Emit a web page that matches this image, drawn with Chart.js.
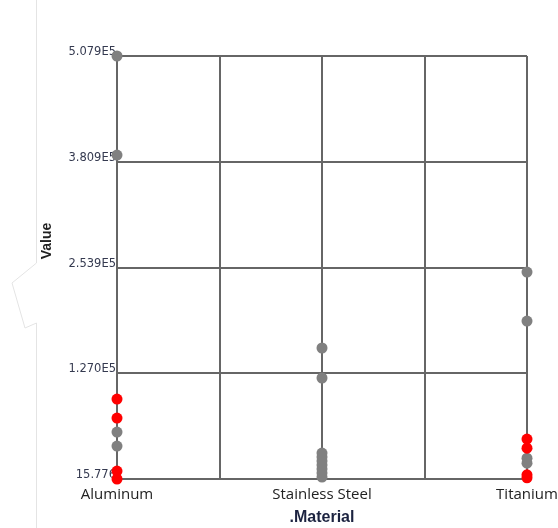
<!DOCTYPE html>
<html>
<head>
<meta charset="utf-8">
<script src="https://cdn.jsdelivr.net/npm/chart.js@4/dist/chart.umd.min.js"></script>
<style>
html,body{margin:0;padding:0;background:#fff;}
#wrap{width:558px;height:528px;position:relative;}
</style>
</head>
<body>
<div id="wrap"><canvas id="c"></canvas></div>
<script>
// ---- data ----
const categories = ['Aluminum', 'Stainless Steel', 'Titanium'];
const yTickValues = [15.776, 127000, 253900, 380900, 507900];
const yTickLabels = ['15.776', '1.270E5', '2.539E5', '3.809E5', '5.079E5'];
// gray points per material
const grayAluminum = [507900, 389000, 56400, 39600];
const grayStainless = [157300, 121300, 31200, 26400, 21600, 16800, 12000, 7200, 2400];
const grayTitanium = [248500, 189700, 25000, 19000];
// red points per material
const redAluminum = [96000, 73200, 9600, 15.776];
const redStainless = [];
const redTitanium = [48000, 37000, 5000, 1500];
const xTitle = '.Material';
const yTitle = 'Value';

const grayByCat = [grayAluminum, grayStainless, grayTitanium];
const redByCat = [redAluminum, redStainless, redTitanium];
const toPoints = arrs => arrs.flatMap((vals, i) => vals.map(v => ({x: i, y: v})));

const gridColor = '#666666';

const decoPlugin = {
  id: 'deco',
  beforeDraw(chart) {
    const ctx = chart.ctx;
    ctx.save();
    ctx.strokeStyle = '#e4e4e4';
    ctx.lineWidth = 1;
    ctx.beginPath();
    ctx.moveTo(36.5, 0);
    ctx.lineTo(36.5, 263);
    ctx.lineTo(12, 283);
    ctx.lineTo(25, 328);
    ctx.lineTo(36.5, 323);
    ctx.lineTo(36.5, 528);
    ctx.stroke();
    ctx.restore();
  },
  afterDraw(chart) {
    const ctx = chart.ctx;
    ctx.save();
    ctx.translate(47, 241);
    ctx.rotate(-Math.PI / 2);
    ctx.font = 'bold 14px "Liberation Sans", Arial, sans-serif';
    ctx.fillStyle = '#222';
    ctx.textAlign = 'center';
    ctx.textBaseline = 'middle';
    ctx.fillText(yTitle, 0, 0);
    ctx.restore();
  }
};

new Chart(document.getElementById('c'), {
  type: 'scatter',
  data: {
    datasets: [
      {
        label: 'red',
        data: toPoints(redByCat),
        backgroundColor: '#ff0000',
        borderWidth: 0,
        pointRadius: 5.5,
        pointHoverRadius: 5.5,
        clip: false
      },
      {
        label: 'gray',
        data: toPoints(grayByCat),
        backgroundColor: '#808080',
        borderWidth: 0,
        pointRadius: 5.5,
        pointHoverRadius: 5.5,
        clip: false
      }
    ]
  },
  options: {
    responsive: true,
    maintainAspectRatio: false,
    animation: false,
    layout: {padding: {left: 0, right: 31, top: 56, bottom: 0}},
    plugins: {
      legend: {display: false},
      tooltip: {enabled: false}
    },
    scales: {
      x: {
        type: 'linear',
        min: 0,
        max: categories.length - 1,
        afterFit(scale) { scale.height = 49; scale.paddingLeft = 0; scale.paddingRight = 0; },
        ticks: {
          stepSize: 0.5,
          autoSkip: false,
          maxRotation: 0,
          padding: 7,
          color: '#222',
          font: {family: '"Open Sans", sans-serif', size: 15},
          callback: v => Number.isInteger(v) ? categories[v] : ''
        },
        grid: {color: gridColor, lineWidth: 2, drawTicks: false},
        border: {display: true, color: gridColor, width: 2},
        title: {
          display: true,
          text: xTitle,
          color: '#1c2340',
          font: {family: '"Liberation Sans", Arial, sans-serif', size: 16, weight: 'bold'},
          padding: {top: 0, bottom: 1}
        }
      },
      y: {
        type: 'linear',
        min: yTickValues[0],
        max: yTickValues[yTickValues.length - 1],
        afterFit(scale) { scale.width = 117; scale.paddingTop = 0; scale.paddingBottom = 0; },
        afterBuildTicks(scale) { scale.ticks = yTickValues.map(v => ({value: v})); },
        ticks: {
          padding: 1,
          labelOffset: -4,
          color: '#353a50',
          font: {family: '"DejaVu Sans", sans-serif', size: 11.5},
          callback: (v, i) => yTickLabels[i]
        },
        grid: {color: gridColor, lineWidth: 2, drawTicks: false},
        border: {display: true, color: gridColor, width: 2}
      }
    }
  },
  plugins: [decoPlugin]
});
</script>
</body>
</html>
